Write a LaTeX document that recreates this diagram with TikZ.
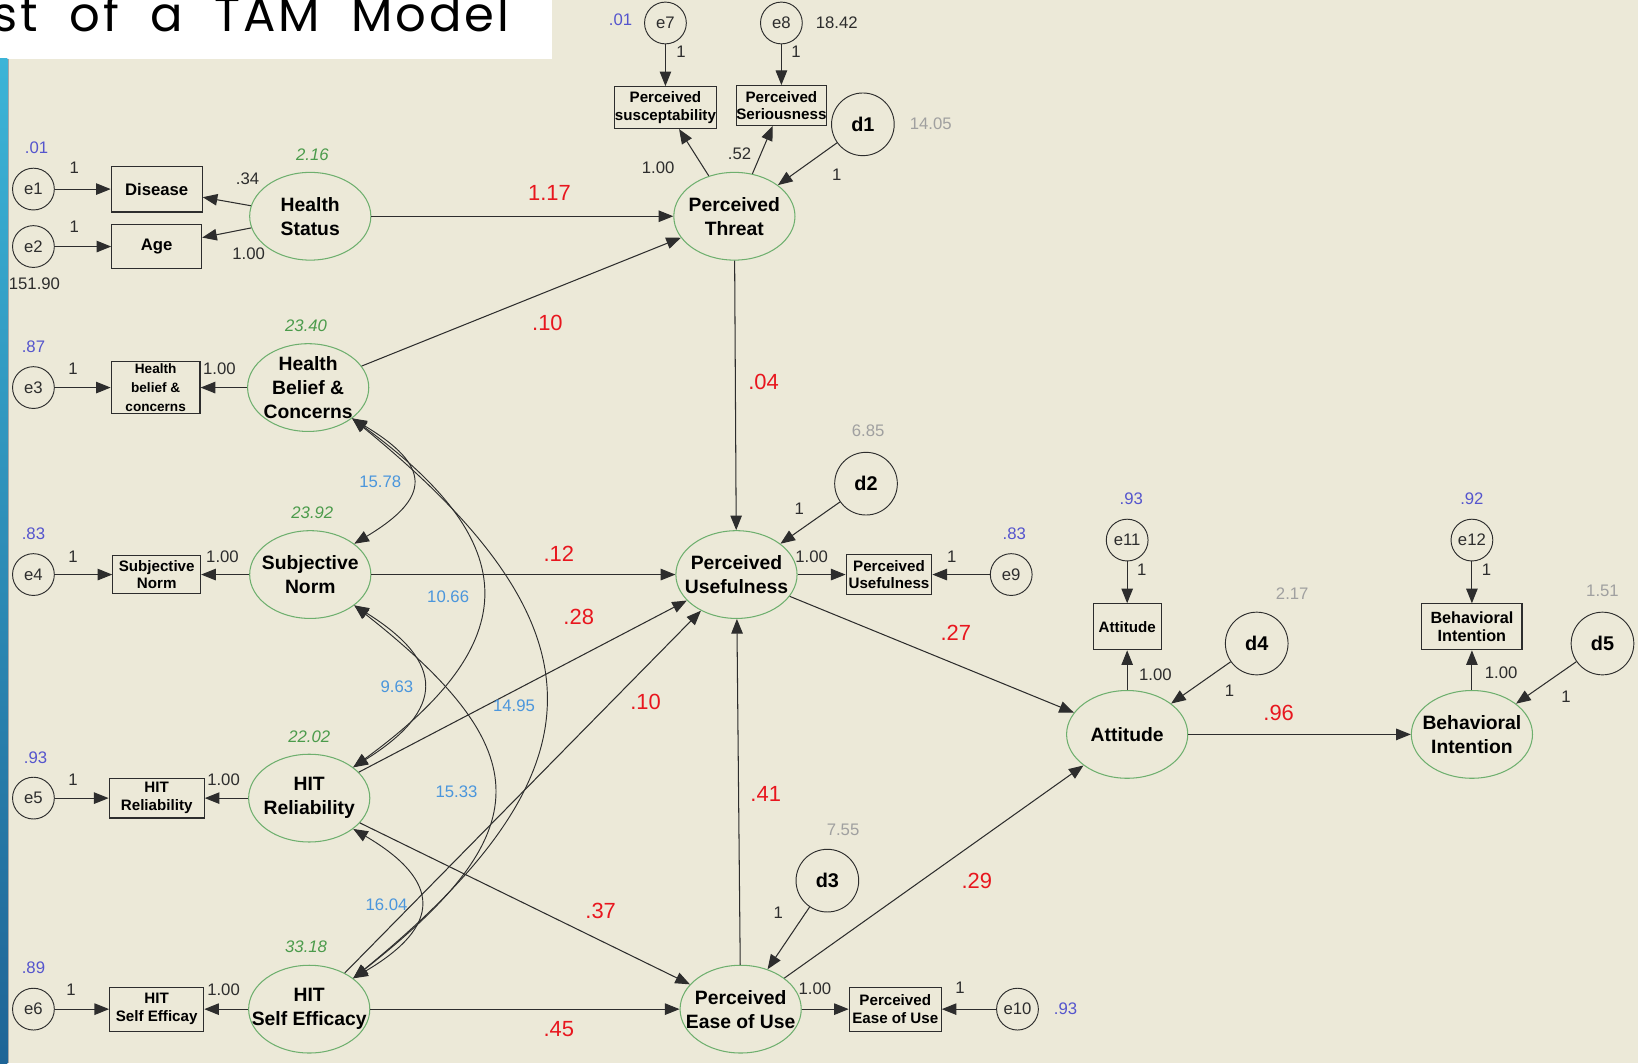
\documentclass[tikz,border=0pt]{standalone}
\usepackage{fontspec}
\setmainfont{Liberation Sans}
\newfontfamily\titlefont[LetterSpace=6,WordSpace=2.0]{Poppins}
\usetikzlibrary{shapes.geometric,arrows.meta}
\definecolor{bg}{RGB}{236,233,216}
\definecolor{latc}{RGB}{110,175,110}
\definecolor{ink}{RGB}{45,45,45}
\definecolor{coefred}{RGB}{232,22,30}
\definecolor{smcc}{RGB}{85,85,205}
\definecolor{varc}{RGB}{75,155,75}
\definecolor{covc}{RGB}{75,150,220}
\definecolor{ltgray}{RGB}{160,160,160}
\definecolor{bartop}{RGB}{60,180,215}
\definecolor{barbot}{RGB}{30,100,150}
\begin{document}
\begin{tikzpicture}[x=1pt,y=-1pt,
  latent/.style={ellipse, draw=latc, line width=1pt, minimum width=116pt, minimum height=84pt, inner xsep=-16pt, inner ysep=-4pt, align=center, font=\fontsize{18.5}{23}\selectfont\bfseries},
  obs/.style={rectangle, draw=ink, line width=1.1pt, inner sep=0pt, align=center, font=\fontsize{14.5}{17}\selectfont\bfseries},
  errc/.style={circle, draw=ink, line width=0.9pt, minimum size=40pt, inner sep=0pt, font=\fontsize{16}{16}\selectfont, text=ink},
  dist/.style={circle, draw=ink, line width=0.9pt, minimum size=60pt, inner sep=0pt, font=\fontsize{19}{19}\selectfont\bfseries},
  pathc/.style={draw=ink, line width=1pt, -{Triangle[length=14pt,width=11pt]}},
  covar/.style={draw=ink, line width=0.9pt, {Triangle[length=14pt,width=11pt]}-{Triangle[length=14pt,width=11pt]}},
  lbl/.style={font=\fontsize{16}{16}\selectfont, text=ink, inner sep=0pt},
  coef/.style={font=\fontsize{21}{21}\selectfont, text=coefred, inner sep=0pt},
  smcl/.style={font=\fontsize{16}{16}\selectfont, text=smcc, inner sep=0pt},
  varl/.style={font=\fontsize{16}{16}\selectfont\itshape, text=varc, inner sep=0pt},
  covl/.style={font=\fontsize{16}{16}\selectfont, text=covc, inner sep=0pt},
  dvar/.style={font=\fontsize{16}{16}\selectfont, text=ltgray, inner sep=0pt}
]
\fill[bg] (0,0) rectangle (1568,1018);
\useasboundingbox (0,0) rectangle (1568,1018);
\fill[white] (0,0) rectangle (528,56);
\shade[top color=bartop, bottom color=barbot] (0,56) rectangle (7,1018);
\draw[gray!70, line width=1pt] (8,56) -- (8,1018);
\node[anchor=base west, inner sep=0pt, font=\titlefont\fontsize{46}{46}\selectfont] (title) at (-7,30) {st of a TAM Model};

% ---- left column ----
\node[errc] (e1) at (32,181) {e1};
\node[obs, minimum width=87pt, minimum height=44pt, font=\fontsize{16}{18}\selectfont\bfseries] (dis) at (150,181) {Disease};
\node[errc] (e2) at (32,236) {e2};
\node[obs, minimum width=86pt, minimum height=42pt, font=\fontsize{16}{18}\selectfont\bfseries] (age) at (150,236) {Age};
\node[latent] (hs) at (297,207) {Health\\Status};

\node[errc] (e3) at (32,371) {e3};
\node[obs, minimum width=85pt, minimum height=50pt, font=\fontsize{13}{18}\selectfont\bfseries] (hbcb) at (149,371) {Health\\belief \&\\concerns};
\node[latent] (hbc) at (295,371) {Health\\Belief \&\\Concerns};

\node[errc] (e4) at (32,550) {e4};
\node[obs, minimum width=84pt, minimum height=36pt] (snb) at (150,550) {Subjective\\Norm};
\node[latent] (sn) at (297,550) {Subjective\\Norm};

\node[errc] (e5) at (32,764) {e5};
\node[obs, minimum width=91pt, minimum height=38pt] (hrb) at (150,764) {HIT\\Reliability};
\node[latent] (hr) at (296,764) {HIT\\Reliability};

\node[errc] (e6) at (32,966) {e6};
\node[obs, minimum width=90pt, minimum height=42pt] (heb) at (150,966) {HIT\\Self Efficay};
\node[latent] (he) at (296,966) {HIT\\Self Efficacy};

% ---- top ----
\node[errc] (e7) at (637,22) {e7};
\node[obs, minimum width=97pt, minimum height=40pt] (psb) at (637,103) {Perceived\\susceptability};
\node[errc] (e8) at (748,22) {e8};
\node[obs, minimum width=86pt, minimum height=38pt] (psrb) at (748,101) {Perceived\\Seriousness};
\node[dist] (d1) at (826,119) {d1};
\node[latent] (pt) at (703,207) {Perceived\\Threat};

% ---- middle ----
\node[latent] (pu) at (705,550) {Perceived\\Usefulness};
\node[dist] (d2) at (829,463) {d2};
\node[obs, minimum width=82pt, minimum height=38pt] (pub) at (851,550) {Perceived\\Usefulness};
\node[errc] (e9) at (968,550) {e9};

\node[latent] (peou) at (709,966) {Perceived\\Ease of Use};
\node[dist] (d3) at (792,843) {d3};
\node[obs, minimum width=88pt, minimum height=42pt] (peb) at (857,966) {Perceived\\Ease of Use};
\node[errc] (e10) at (974,966) {e10};

% ---- right ----
\node[latent] (att) at (1079,703) {Attitude};
\node[obs, minimum width=65pt, minimum height=44pt, font=\fontsize{14.5}{17}\selectfont\bfseries] (attb) at (1079,600) {Attitude};
\node[errc] (e11) at (1079,517) {e11};
\node[dist] (d4) at (1203,616) {d4};

\node[latent] (bi) at (1409,703) {Behavioral\\Intention};
\node[obs, minimum width=96pt, minimum height=44pt, font=\fontsize{15.5}{18}\selectfont\bfseries] (bib) at (1409,600) {Behavioral\\Intention};
\node[errc] (e12) at (1409,517) {e12};
\node[dist] (d5) at (1534,616) {d5};

% ---- measurement paths ----
\draw[pathc] (e1) -- (dis);
\draw[pathc] (e2) -- (age);
\draw[pathc] (hs) -- (dis);
\draw[pathc] (hs) -- (age);
\draw[pathc] (e3) -- (hbcb);
\draw[pathc] (hbc) -- (hbcb);
\draw[pathc] (e4) -- (snb);
\draw[pathc] (sn) -- (snb);
\draw[pathc] (e5) -- (hrb);
\draw[pathc] (hr) -- (hrb);
\draw[pathc] (e6) -- (heb);
\draw[pathc] (he) -- (heb);
\draw[pathc] (e7) -- (psb);
\draw[pathc] (e8) -- (psrb);
\draw[pathc] (pt) -- (psb);
\draw[pathc] (pt) -- (psrb);
\draw[pathc] (d1) -- (pt);
\draw[pathc] (pu) -- (pub);
\draw[pathc] (e9) -- (pub);
\draw[pathc] (d2) -- (pu);
\draw[pathc] (peou) -- (peb);
\draw[pathc] (e10) -- (peb);
\draw[pathc] (d3) -- (peou);
\draw[pathc] (att) -- (attb);
\draw[pathc] (e11) -- (attb);
\draw[pathc] (d4) -- (att);
\draw[pathc] (bi) -- (bib);
\draw[pathc] (e12) -- (bib);
\draw[pathc] (d5) -- (bi);

% ---- structural paths ----
\draw[pathc] (hs) -- (pt);
\draw[pathc] (hbc) -- (pt);
\draw[pathc] (pt) -- (pu);
\draw[pathc] (sn) -- (pu);
\draw[pathc] (hr) -- (pu);
\draw[pathc] (he) -- (pu);
\draw[pathc] (hr) -- (peou);
\draw[pathc] (he) -- (peou);
\draw[pathc] (peou) -- (pu);
\draw[pathc] (pu) -- (att);
\draw[pathc] (peou) -- (att);
\draw[pathc] (att) -- (bi);

% ---- covariances ----
\draw[covar] (hbc.-35) .. controls +(75,45) and +(75,-45) .. (sn.35);
\draw[covar] (hbc.-35) .. controls +(165,120) and +(165,-120) .. (hr.35);
\draw[covar] (hbc.-35) .. controls +(245,200) and +(245,-200) .. (he.35);
\draw[covar] (sn.-35) .. controls +(88,55) and +(88,-55) .. (hr.35);
\draw[covar] (sn.-35) .. controls +(178,140) and +(178,-140) .. (he.35);
\draw[covar] (hr.-35) .. controls +(85,50) and +(85,-50) .. (he.35);

% ---- labels: squared multiple correlations ----
\node[smcl] (s1) at (35,141) {.01};
\node[smcl] (s3) at (32,332) {.87};
\node[smcl] (s4) at (32,511) {.83};
\node[smcl] (s5) at (34,725) {.93};
\node[smcl] (s6) at (32,926) {.89};
\node[smcl] (s7) at (594,19) {.01};
\node[smcl] (s9) at (971,511) {.83};
\node[smcl] (s10) at (1020,966) {.93};
\node[smcl] (s11) at (1083,477) {.93};
\node[smcl] (s12) at (1409,477) {.92};
% ---- variances ----
\node[varl] (v1) at (299,148) {2.16};
\node[varl] (v2) at (293,312) {23.40};
\node[varl] (v3) at (299,491) {23.92};
\node[varl] (v4) at (296,705) {22.02};
\node[varl] (v5) at (293,906) {33.18};
\node[lbl] (o1) at (33,272) {151.90};
\node[lbl] (o2) at (801,22) {18.42};
\node[dvar] (g1) at (891,118) {14.05};
\node[dvar] (g2) at (831,412) {6.85};
\node[dvar] (g3) at (807,794) {7.55};
\node[dvar] (g4) at (1237,568) {2.17};
\node[dvar] (g5) at (1534,566) {1.51};
% ---- fixed 1 ----
\node[lbl] (f1) at (71,161) {1};
\node[lbl] (f2) at (71,217) {1};
\node[lbl] (f3) at (70,353) {1};
\node[lbl] (f4) at (70,533) {1};
\node[lbl] (f5) at (70,746) {1};
\node[lbl] (f6) at (68,947) {1};
\node[lbl] (f7) at (652,50) {1};
\node[lbl] (f8) at (762,50) {1};
\node[lbl] (f9) at (801,167) {1};
\node[lbl] (f10) at (765,487) {1};
\node[lbl] (f11) at (911,533) {1};
\node[lbl] (f12) at (745,874) {1};
\node[lbl] (f13) at (919,946) {1};
\node[lbl] (f14) at (1093,545) {1};
\node[lbl] (f15) at (1177,661) {1};
\node[lbl] (f16) at (1423,545) {1};
\node[lbl] (f17) at (1499,667) {1};
% ---- loadings ----
\node[lbl] (w1) at (237,171) {.34};
\node[lbl] (w2) at (238,243) {1.00};
\node[lbl] (w3) at (210,353) {1.00};
\node[lbl] (w4) at (213,533) {1.00};
\node[lbl] (w5) at (214,746) {1.00};
\node[lbl] (w6) at (214,947) {1.00};
\node[lbl] (w7) at (630,161) {1.00};
\node[lbl] (w8) at (708,147) {.52};
\node[lbl] (w9) at (777,533) {1.00};
\node[lbl] (w10) at (780,946) {1.00};
\node[lbl] (w11) at (1106,646) {1.00};
\node[lbl] (w12) at (1437,644) {1.00};
% ---- regression weights ----
\node[coef] (r1) at (526,185) {1.17};
\node[coef] (r2) at (524,309) {.10};
\node[coef] (r3) at (731,366) {.04};
\node[coef] (r4) at (535,530) {.12};
\node[coef] (r5) at (554,591) {.28};
\node[coef] (r6) at (618,672) {.10};
\node[coef] (r7) at (915,606) {.27};
\node[coef] (r8) at (733,760) {.41};
\node[coef] (r9) at (935,843) {.29};
\node[coef] (r10) at (575,872) {.37};
\node[coef] (r11) at (535,985) {.45};
\node[coef] (r12) at (1224,682) {.96};
% ---- covariances ----
\node[covl] (c1) at (364,461) {15.78};
\node[covl] (c2) at (429,571) {10.66};
\node[covl] (c3) at (380,657) {9.63};
\node[covl] (c4) at (492,676) {14.95};
\node[covl] (c5) at (437,758) {15.33};
\node[covl] (c6) at (370,866) {16.04};
\end{tikzpicture}
\end{document}
